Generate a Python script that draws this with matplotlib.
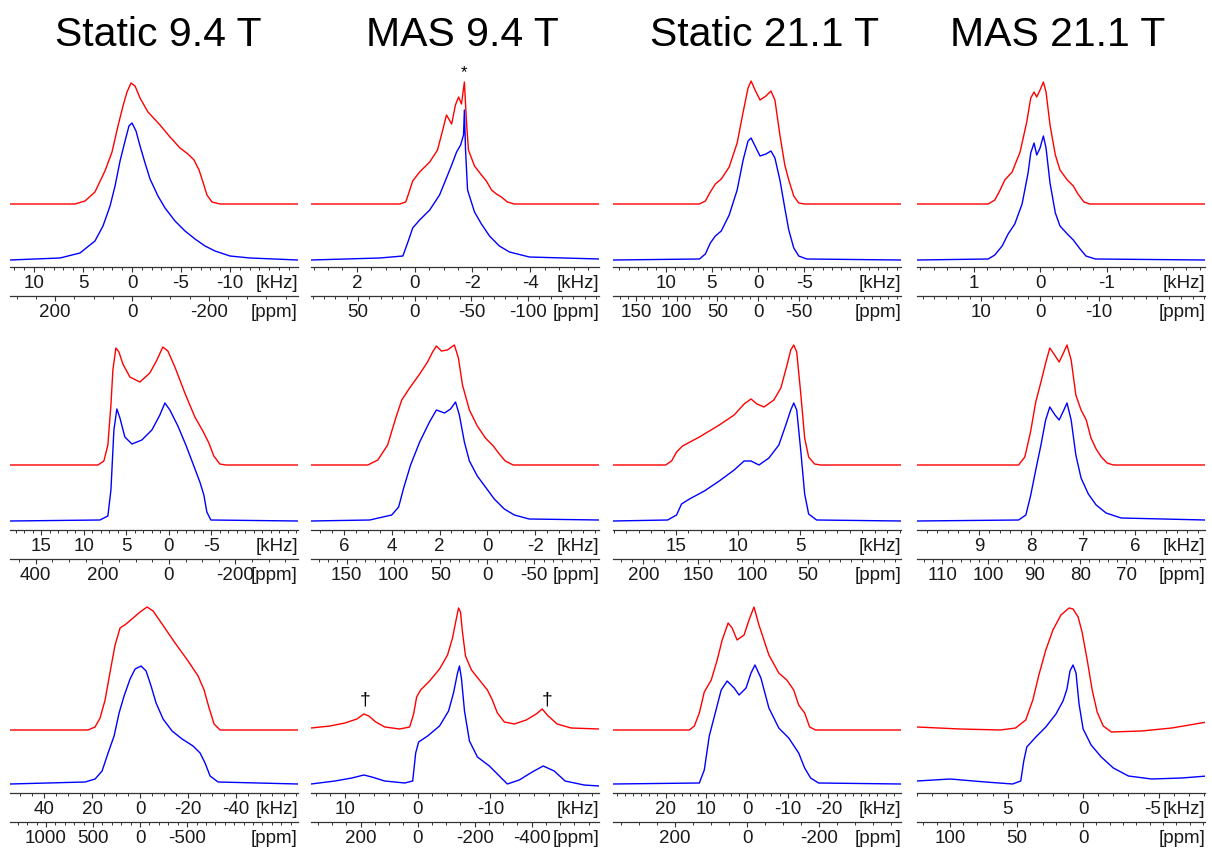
import numpy as np
import matplotlib
matplotlib.use("Agg")
import matplotlib.pyplot as plt
from matplotlib.ticker import MultipleLocator, FormatStrFormatter
from matplotlib.transforms import ScaledTranslation

plt.rcParams['font.family'] = ['Liberation Sans', 'DejaVu Sans']
plt.rcParams['axes.unicode_minus'] = False

# ---------------------------------------------------------------- data
TITLES = ["Static 9.4 T", "MAS 9.4 T", "Static 21.1 T", "MAS 21.1 T"]
LARMOR_MHZ = [39.2, 39.2, 88.2, 88.2]   # 35Cl at 9.4 T and 21.1 T

# row 1
r1_st94_red_khz = [12.45, 5.82, 4.80, 3.78, 2.76, 2.04, 1.43, 0.92, 0.51, 0.10, -0.31, -0.82, -1.63, -2.86,
                   -3.88, -4.90, -5.71, -6.33, -6.84, -7.24, -7.65, -8.16, -8.98, -16.94]
r1_st94_red = [0, 0, 3, 12, 33, 52, 78, 98, 112, 121, 118, 106, 92, 79, 67, 56, 50, 44, 34, 22, 9, 2, 0, 0]
r1_st94_blue_khz = [12.45, 7.35, 5.31, 3.78, 2.96, 2.24, 1.73, 1.22, 0.71, 0.31, 0.0, -0.41, -0.82, -1.33,
                    -1.84, -2.65, -3.37, -4.39, -5.41, -6.43, -7.45, -8.47, -10.0, -12.04, -16.94]
r1_st94_blue = [0, 2, 7, 19, 34, 54, 74, 99, 119, 134, 137, 129, 114, 97, 81, 64, 52, 39, 29, 21, 14, 9, 4, 2, 0]

r1_mas94_red_khz = [3.59, 0.52, 0.31, 0.17, 0.07, -0.17, -0.52, -0.79, -0.97, -1.10, -1.28, -1.41, -1.52,
                    -1.62, -1.72, -1.79, -1.86, -2.07, -2.31, -2.48, -2.66, -2.83, -3.00, -3.21, -3.45, -6.38]
r1_mas94_red = [0, 0, 2, 14, 23, 32, 42, 54, 74, 89, 80, 99, 107, 100, 122, 84, 54, 38, 29, 23, 14, 10, 7, 2, 0, 0]
r1_mas94_blue_khz = [3.59, 1.21, 0.41, 0.21, 0.07, -0.17, -0.52, -0.86, -1.10, -1.28, -1.45, -1.59, -1.69,
                     -1.72, -1.76, -1.83, -2.07, -2.31, -2.59, -2.93, -3.28, -3.97, -6.38]
r1_mas94_blue = [0, 2, 4, 20, 32, 40, 50, 65, 82, 95, 108, 115, 125, 150, 110, 70, 48, 36, 24, 14, 8, 3, 1]

r1_st211_red_khz = [15.7, 6.34, 5.70, 5.16, 4.62, 3.98, 3.12, 2.26, 1.61, 1.08, 0.75, 0.32, -0.22, -0.86,
                    -1.40, -1.83, -2.37, -2.90, -3.33, -3.87, -4.41, -5.05, -15.48]
r1_st211_red = [0, 0, 3, 12, 20, 25, 37, 61, 92, 116, 123, 114, 104, 108, 113, 104, 69, 39, 24, 8, 1, 0, 0]
r1_st211_blue_khz = [15.7, 6.34, 5.70, 5.16, 4.62, 3.98, 3.12, 2.26, 1.61, 1.08, 0.75, 0.32, -0.22, -0.86,
                     -1.40, -1.83, -2.37, -2.90, -3.33, -3.87, -4.41, -5.27, -15.48]
r1_st211_blue = [0, 1, 6, 17, 24, 29, 45, 70, 100, 119, 122, 114, 104, 106, 109, 102, 80, 52, 30, 12, 4, 1, 0]

r1_mas211_red_khz = [1.85, 0.78, 0.68, 0.60, 0.53, 0.42, 0.30, 0.20, 0.14, 0.09, 0.05, 0.0, -0.05, -0.09,
                     -0.15, -0.23, -0.30, -0.41, -0.50, -0.57, -0.66, -0.75, -2.48]
r1_mas211_red = [0, 0, 4, 14, 24, 32, 52, 82, 106, 112, 107, 114, 122, 112, 79, 49, 34, 24, 18, 10, 2, 0, 0]
r1_mas211_blue_khz = [1.85, 0.78, 0.68, 0.57, 0.48, 0.38, 0.27, 0.18, 0.14, 0.09, 0.05, 0.0, -0.05, -0.09,
                      -0.15, -0.23, -0.30, -0.41, -0.50, -0.59, -0.69, -0.83, -2.48]
r1_mas211_blue = [0, 1, 5, 14, 26, 36, 56, 87, 107, 117, 105, 112, 124, 112, 77, 47, 34, 26, 20, 12, 4, 1, 0]

# row 2
r2_st94_red_khz = [18.7, 8.35, 7.65, 7.18, 6.82, 6.59, 6.24, 5.88, 5.41, 4.59, 3.41, 2.24, 1.41, 0.71, 0.12,
                   -0.71, -1.88, -3.06, -4.00, -4.71, -5.29, -6.0, -6.71, -15.2]
r2_st94_red = [0, 0, 4, 20, 60, 95, 117, 113, 101, 88, 83, 92, 105, 118, 114, 98, 72, 48, 34, 22, 9, 1, 0, 0]
r2_st94_blue_khz = [18.7, 8.12, 7.18, 6.82, 6.47, 6.12, 5.76, 5.18, 4.35, 3.18, 2.0, 1.06, 0.47, -0.12,
                    -1.06, -2.0, -2.94, -3.65, -4.12, -4.47, -4.94, -15.2]
r2_st94_blue = [0, 1, 5, 31, 91, 112, 103, 84, 77, 81, 91, 106, 118, 111, 95, 76, 55, 39, 26, 9, 1, 0]

r2_mas94_red_khz = [7.375, 5.0, 4.58, 4.17, 3.83, 3.58, 3.25, 2.83, 2.5, 2.29, 2.13, 1.92, 1.67, 1.38, 1.21,
                    1.04, 0.75, 0.42, 0.08, -0.25, -0.5, -0.75, -1.08, -4.67]
r2_mas94_red = [0, 0, 5, 20, 47, 65, 77, 91, 103, 113, 119, 114, 115, 120, 107, 80, 55, 39, 27, 19, 11, 4, 0, 0]
r2_mas94_blue_khz = [7.375, 4.92, 4.0, 3.71, 3.5, 3.21, 2.83, 2.42, 2.13, 1.79, 1.54, 1.33, 1.17, 0.96, 0.75,
                     0.42, 0.08, -0.29, -0.71, -1.13, -1.75, -4.67]
r2_mas94_blue = [0, 1, 6, 14, 33, 56, 79, 99, 111, 108, 112, 119, 106, 79, 60, 45, 34, 22, 12, 6, 2, 1]

r2_st211_red_khz = [20.08, 15.84, 15.36, 14.96, 14.48, 13.12, 11.52, 10.32, 9.52, 8.96, 8.48, 7.92, 7.12,
                    6.56, 6.08, 5.76, 5.52, 5.28, 4.96, 4.64, 4.32, 3.84, 3.36, -3.12]
r2_st211_red = [0, 0, 4, 13, 19, 28, 40, 50, 61, 66, 61, 58, 65, 77, 99, 115, 120, 113, 72, 27, 8, 1, 0, 0]
r2_st211_blue_khz = [20.08, 15.68, 14.96, 14.56, 13.92, 12.72, 11.52, 10.32, 9.52, 8.96, 8.32, 7.52, 6.72,
                     6.16, 5.76, 5.52, 5.28, 4.96, 4.64, 4.32, 3.68, -3.12]
r2_st211_blue = [0, 1, 6, 17, 22, 30, 40, 51, 60, 60, 56, 63, 76, 96, 111, 118, 111, 71, 27, 7, 1, 0]

r2_mas211_red_khz = [10.19, 8.24, 8.12, 8.01, 7.91, 7.81, 7.72, 7.64, 7.56, 7.46, 7.37, 7.31, 7.23, 7.14,
                     7.04, 6.94, 6.85, 6.75, 6.65, 6.54, 6.42, 4.66]
r2_mas211_red = [0, 0, 8, 33, 63, 83, 102, 117, 111, 103, 113, 120, 105, 70, 55, 45, 27, 16, 8, 2, 0, 0]
r2_mas211_blue_khz = [10.19, 8.24, 8.10, 8.01, 7.91, 7.81, 7.72, 7.64, 7.54, 7.46, 7.37, 7.31, 7.23, 7.14,
                      7.04, 6.90, 6.75, 6.56, 6.27, 4.66]
r2_mas211_blue = [0, 1, 6, 25, 51, 76, 101, 114, 106, 101, 111, 118, 101, 66, 43, 27, 16, 8, 3, 1]

# row 3
r3_st94_red_khz = [54.2, 21.7, 18.75, 16.67, 14.58, 12.5, 10.42, 8.33, 5.83, 2.92, 0.0, -2.92, -5.42, -9.17,
                   -14.58, -20.0, -24.17, -26.67, -28.75, -30.83, -33.33, -65.8]
r3_st94_red = [0, 0, 3, 12, 30, 58, 85, 102, 106, 112, 118, 123, 119, 106, 87, 69, 54, 40, 22, 6, 0, 0]
r3_st94_blue_khz = [54.2, 22.9, 18.75, 15.83, 13.33, 10.83, 8.75, 6.67, 4.17, 2.08, -0.42, -2.5, -4.58,
                    -6.67, -9.58, -13.33, -17.5, -22.08, -25.0, -27.08, -29.17, -32.5, -65.8]
r3_st94_blue = [0, 2, 5, 13, 31, 48, 71, 88, 105, 115, 118, 113, 98, 81, 65, 53, 45, 38, 31, 21, 8, 2, 0]

r3_mas94_red_khz = [14.66, 12.05, 10.0, 8.36, 7.40, 6.71, 5.75, 4.52, 2.47, 1.10, 0.55, 0.14, -0.41, -1.64,
                    -3.01, -4.11, -4.79, -5.34, -5.62, -5.89, -6.16, -6.58, -7.40, -8.49, -9.59, -10.27,
                    -10.96, -11.92, -13.29, -14.93, -16.30, -17.12, -17.95, -19.18, -21.10, -24.93]
r3_mas94_red = [2, 4, 7, 11, 16, 14, 8, 3, 1, 3, 16, 33, 40, 49, 61, 75, 92, 112, 122, 118, 98, 74, 60, 50,
                40, 30, 17, 8, 6, 10, 16, 21, 14, 6, 2, 1]
r3_mas94_blue_khz = [14.66, 11.37, 9.04, 7.40, 6.30, 4.52, 1.78, 0.68, 0.27, -0.14, -1.37, -3.01, -4.25,
                     -4.93, -5.48, -5.75, -6.03, -6.44, -7.12, -8.22, -9.86, -11.23, -12.33, -13.97,
                     -15.75, -17.26, -18.77, -20.27, -22.88, -24.93]
r3_mas94_blue = [0, 3, 6, 9, 7, 3, 1, 3, 31, 42, 48, 58, 73, 91, 111, 118, 105, 73, 43, 27, 18, 8, 0, 4, 12,
                 18, 13, 3, -1, -2]
r3_mas94_sideband_khz = [7.26, -17.8]   # spinning sidebands marked with a dagger

r3_st211_red_khz = [32.9, 14.15, 12.93, 11.71, 10.49, 8.78, 7.32, 6.10, 4.63, 3.66, 2.44, 0.73, -0.49,
                    -1.71, -2.93, -5.37, -7.80, -9.76, -11.46, -12.68, -14.15, -15.37, -16.83, -37.8]
r3_st211_red = [0, 0, 4, 17, 38, 50, 70, 90, 107, 102, 90, 95, 110, 123, 105, 75, 57, 50, 40, 25, 17, 3, 0, 0]
r3_st211_blue_khz = [32.9, 11.71, 10.49, 9.27, 7.80, 6.34, 4.88, 3.17, 1.95, 0.24, -0.98, -1.95, -3.41,
                     -5.37, -7.80, -10.24, -12.68, -14.15, -15.61, -17.56, -37.8]
r3_st211_blue = [0, 1, 14, 48, 71, 94, 103, 96, 89, 96, 111, 119, 106, 76, 56, 46, 31, 16, 6, 1, 0]

r3_mas211_red_khz = [11.0, 8.13, 5.47, 4.47, 3.8, 3.33, 2.93, 2.47, 2.0, 1.47, 0.93, 0.67, 0.33, 0.07,
                     -0.27, -0.6, -0.93, -1.33, -1.87, -3.87, -5.87, -8.2]
r3_mas211_red = [3, 1, 0, 2, 10, 30, 55, 80, 100, 115, 122, 121, 113, 98, 70, 40, 18, 4, -2, -1, 2, 8]
r3_mas211_blue_khz = [11.0, 8.8, 6.47, 4.67, 4.13, 3.93, 3.73, 3.13, 2.47, 1.8, 1.33, 1.07, 0.87, 0.67,
                      0.47, 0.27, 0.0, -0.53, -1.2, -2.0, -3.0, -4.53, -6.53, -8.2]
r3_mas211_blue = [3, 5, 2, 0, 3, 23, 37, 47, 57, 70, 83, 95, 113, 119, 111, 80, 55, 39, 27, 16, 8, 5, 6, 8]

# axis ticks per panel: (kHz majors, kHz minor step, ppm majors, ppm minor step)
r1_ticks = [([10, 5, 0, -5, -10], 1, [200, 0, -200], 50),
            ([2, 0, -2, -4], 0.5, [50, 0, -50, -100], 10),
            ([10, 5, 0, -5], 1, [150, 100, 50, 0, -50], 10),
            ([1, 0, -1], 0.2, [10, 0, -10], 2)]
r2_ticks = [([15, 10, 5, 0, -5], 1, [400, 200, 0, -200], 50),
            ([6, 4, 2, 0, -2], 0.5, [150, 100, 50, 0, -50], 10),
            ([15, 10, 5], 1, [200, 150, 100, 50], 10),
            ([9, 8, 7, 6], 0.2, [110, 100, 90, 80, 70], 2)]
r3_ticks = [([40, 20, 0, -20, -40], 5, [1000, 500, 0, -500], 100),
            ([10, 0, -10], 2, [200, 0, -200, -400], 50),
            ([20, 10, 0, -10, -20], 2, [200, 0, -200], 50),
            ([5, 0, -5], 1, [100, 50, 0], 10)]

# visible kHz window of each panel (left, right)
r1_xlim = [(12.45, -16.94), (3.59, -6.38), (15.7, -15.48), (1.85, -2.48)]
r2_xlim = [(18.7, -15.2), (7.375, -4.67), (20.08, -3.12), (10.19, 4.66)]
r3_xlim = [(54.2, -65.8), (14.66, -24.93), (32.9, -37.8), (11.0, -8.07)]

rows = [
    [((r1_st94_red_khz, r1_st94_red), (r1_st94_blue_khz, r1_st94_blue)),
     ((r1_mas94_red_khz, r1_mas94_red), (r1_mas94_blue_khz, r1_mas94_blue)),
     ((r1_st211_red_khz, r1_st211_red), (r1_st211_blue_khz, r1_st211_blue)),
     ((r1_mas211_red_khz, r1_mas211_red), (r1_mas211_blue_khz, r1_mas211_blue))],
    [((r2_st94_red_khz, r2_st94_red), (r2_st94_blue_khz, r2_st94_blue)),
     ((r2_mas94_red_khz, r2_mas94_red), (r2_mas94_blue_khz, r2_mas94_blue)),
     ((r2_st211_red_khz, r2_st211_red), (r2_st211_blue_khz, r2_st211_blue)),
     ((r2_mas211_red_khz, r2_mas211_red), (r2_mas211_blue_khz, r2_mas211_blue))],
    [((r3_st94_red_khz, r3_st94_red), (r3_st94_blue_khz, r3_st94_blue)),
     ((r3_mas94_red_khz, r3_mas94_red), (r3_mas94_blue_khz, r3_mas94_blue)),
     ((r3_st211_red_khz, r3_st211_red), (r3_st211_blue_khz, r3_st211_blue)),
     ((r3_mas211_red_khz, r3_mas211_red), (r3_mas211_blue_khz, r3_mas211_blue))],
]
row_ticks = [r1_ticks, r2_ticks, r3_ticks]
row_xlim = [r1_xlim, r2_xlim, r3_xlim]

# ---------------------------------------------------------------- layout
W, H = 1212, 851
COL_LEFT = [10, 311, 613, 917]
PANEL_W = 288
PANEL_H = 210
AXIS_Y = [267, 530, 793]          # kHz axis line of each row (pixels from top)
PPM_GAP = 29                      # distance between kHz and ppm axes
RED_BASE = [63, 65, 63]           # simulated trace baseline above kHz axis
BLUE_BASE = [7, 9, 9]             # experimental trace baseline above kHz axis
TITLE_X = [158, 462, 765, 1058]
TITLE_Y = 35

RED = '#ff0000'
BLUE = '#0000ff'
AX_COLOR = '#333333'
TXT_COLOR = '#1a1a1a'
FS = 13.5
MAJ_LEN, MIN_LEN, PAD = 3.6, 2.2, 2.5

fig = plt.figure(figsize=(W / 100, H / 100), dpi=100)

for c, title in enumerate(TITLES):
    fig.text(TITLE_X[c] / W, 1 - TITLE_Y / H, title, ha='center', va='center',
             fontsize=29.5, color='black')


def style_axis(axis_obj, spine):
    spine.set_color(AX_COLOR)
    spine.set_linewidth(0.9)
    axis_obj.set_tick_params(which='major', direction='out', length=MAJ_LEN, width=0.8,
                             color=AX_COLOR, pad=PAD, labelsize=FS, labelcolor=TXT_COLOR)
    axis_obj.set_tick_params(which='minor', direction='out', length=MIN_LEN, width=0.7,
                             color=AX_COLOR)
    axis_obj.set_major_formatter(FormatStrFormatter('%g'))


for r in range(3):
    for c in range(4):
        (rx, ry), (bx, by) = rows[r][c]
        khz_major, khz_minor, ppm_major, ppm_minor = row_ticks[r][c]
        ax = fig.add_axes([COL_LEFT[c] / W, 1 - AXIS_Y[r] / H, PANEL_W / W, PANEL_H / H])
        ax.patch.set_visible(False)
        ax.plot(rx, np.asarray(ry, float) + RED_BASE[r], color=RED, lw=1.0)
        ax.plot(bx, np.asarray(by, float) + BLUE_BASE[r], color=BLUE, lw=1.0)
        ax.set_xlim(*row_xlim[r][c])
        ax.set_ylim(0, PANEL_H)
        for s in ('top', 'left', 'right'):
            ax.spines[s].set_visible(False)
        ax.set_yticks([])
        ax.set_xticks(khz_major)
        ax.xaxis.set_minor_locator(MultipleLocator(khz_minor))
        style_axis(ax.xaxis, ax.spines['bottom'])

        nu = LARMOR_MHZ[c]
        sec = ax.secondary_xaxis(-PPM_GAP / PANEL_H,
                                 functions=(lambda k, nu=nu: np.asarray(k) * 1000.0 / nu,
                                            lambda p, nu=nu: np.asarray(p) * nu / 1000.0))
        sec.set_xticks(ppm_major)
        sec.xaxis.set_minor_locator(MultipleLocator(ppm_minor))
        style_axis(sec.xaxis, sec.spines['bottom'])

        off = -(MAJ_LEN + PAD)
        ax.annotate('[kHz]', xy=(1.0, 0.0), xycoords='axes fraction', xytext=(0, off),
                    textcoords='offset points', ha='right', va='top', fontsize=FS, color=TXT_COLOR)
        ax.annotate('[ppm]', xy=(1.0, -PPM_GAP / PANEL_H), xycoords='axes fraction',
                    xytext=(0, off), textcoords='offset points', ha='right', va='top',
                    fontsize=FS, color=TXT_COLOR)

        # the last kHz label of the narrow MAS 21.1 T axis sits flush against the unit
        if r == 2 and c == 3:
            fig.canvas.draw()
            last = ax.xaxis.get_majorticklabels()[-1]
            last.set_transform(last.get_transform()
                               + ScaledTranslation(-6 / 100, 0, fig.dpi_scale_trans))

        # markers on the MAS 9.4 T traces
        if r == 0 and c == 1:
            k_star = rx[int(np.argmax(ry))]
            ax.text(k_star, max(ry) + RED_BASE[r] + 2, '*', ha='center', va='bottom',
                    fontsize=12, color='black')
        if r == 2 and c == 1:
            for k in r3_mas94_sideband_khz:
                yk = np.interp(-k, -np.asarray(rx), ry)
                ax.text(k, yk + RED_BASE[r] + 6, '\u2020', ha='center', va='bottom',
                        fontsize=14, color='black')

fig.savefig('out.png', dpi=100)
